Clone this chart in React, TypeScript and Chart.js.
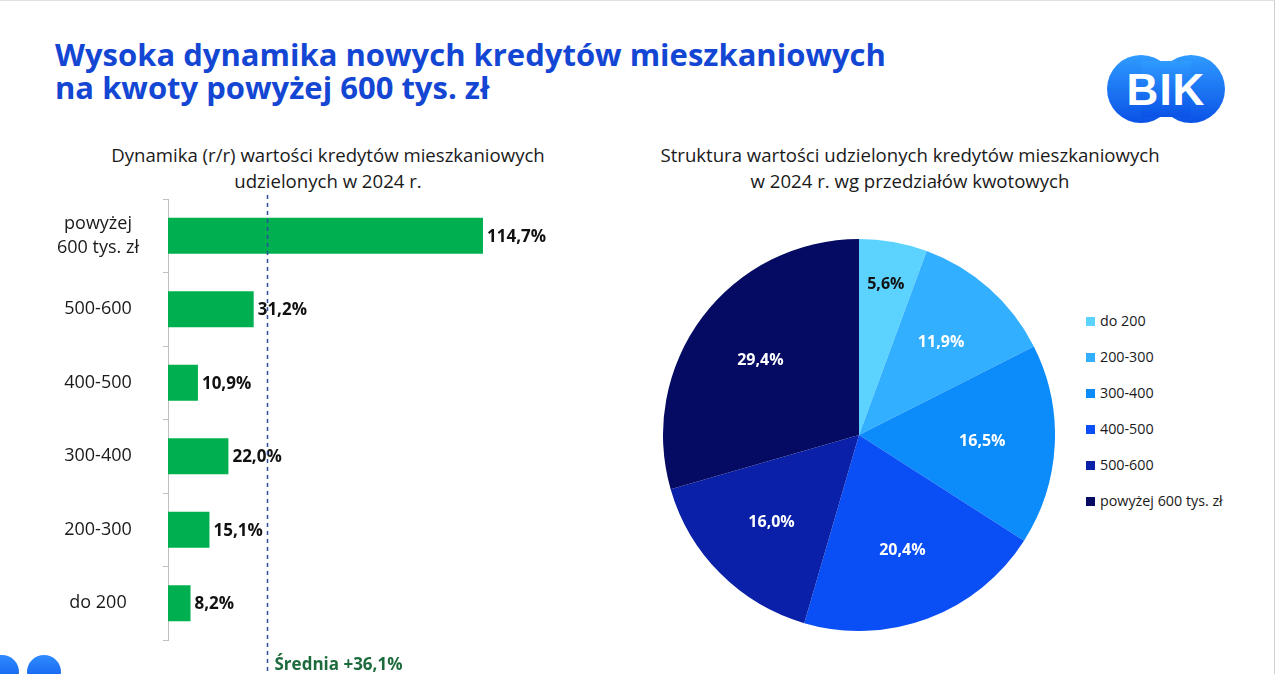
import React, { useEffect, useRef } from "react";
import { Chart, registerables } from "chart.js";

Chart.register(...registerables);

// ---------- data ----------
const barCategories: (string | string[])[] = [["powyżej", "600 tys. zł"], "500-600", "400-500", "300-400", "200-300", "do 200"];
const barValues = [114.7, 31.2, 10.9, 22.0, 15.1, 8.2];
const averageValue = 36.1;
const averageLabel = "Średnia +36,1%";

const pieLabels = ["do 200", "200-300", "300-400", "400-500", "500-600", "powyżej 600 tys. zł"];
const pieValues = [5.6, 11.9, 16.5, 20.4, 16.0, 29.4];
const pieColors = ["#5CD3FF", "#33AFFF", "#0B8CFA", "#0A4EF6", "#0A20A8", "#050B62"];

const titleLines = ["Wysoka dynamika nowych kredytów mieszkaniowych", "na kwoty powyżej 600 tys. zł"];
const leftSubtitle = ["Dynamika (r/r) wartości kredytów mieszkaniowych", "udzielonych w 2024 r."];
const rightSubtitle = ["Struktura wartości udzielonych kredytów mieszkaniowych", "w 2024 r. wg przedziałów kwotowych"];

// ---------- styles ----------
const FONT = '"Open Sans", "Noto Sans", sans-serif';
const fmt = (v: number) => v.toFixed(1).replace(".", ",") + "%";

function isLight(hex: string) {
  const n = parseInt(hex.slice(1), 16);
  const r = (n >> 16) & 255, g = (n >> 8) & 255, b = n & 255;
  return 0.299 * r + 0.587 * g + 0.114 * b > 170;
}

function BarChart() {
  const ref = useRef<HTMLCanvasElement>(null);
  useEffect(() => {
    const canvas = ref.current!;
    const ctx = canvas.getContext("2d")!;
    const tickSize = 18;
    ctx.font = `${tickSize}px ${FONT}`;
    const widest = Math.max(
      ...barCategories.flatMap((c) => (Array.isArray(c) ? c : [c]).map((s) => ctx.measureText(s).width))
    );
    const axisX = 168;
    const tickLen = 5;
    const labelCenterX = 98;
    const pad = Math.max(0, axisX - tickLen - labelCenterX - widest / 2);

    const barLabels = {
      id: "barLabels",
      afterDatasetsDraw(chart: any) {
        const c = chart.ctx;
        const meta = chart.getDatasetMeta(0);
        c.save();
        c.font = `bold 17px ${FONT}`;
        c.fillStyle = "#111111";
        c.textAlign = "left";
        c.textBaseline = "middle";
        meta.data.forEach((el: any, i: number) => {
          c.fillText(fmt(barValues[i]), el.x + 4, el.y + 1);
        });
        c.restore();
      },
    };
    const avgLine = {
      id: "avgLine",
      afterDraw(chart: any) {
        const c = chart.ctx;
        const x = Math.round(chart.scales.x.getPixelForValue(averageValue)) + 0.5;
        c.save();
        c.strokeStyle = "#2A4E9C";
        c.lineWidth = 1.5;
        c.setLineDash([4, 4]);
        c.beginPath();
        c.moveTo(x, 5);
        c.lineTo(x, chart.height - 2);
        c.stroke();
        c.setLineDash([]);
        c.font = `bold 17px ${FONT}`;
        c.fillStyle = "#1D6B3C";
        c.textAlign = "left";
        c.textBaseline = "alphabetic";
        c.fillText(averageLabel, x + 7, chart.height - 4);
        c.restore();
      },
    };

    const chart = new Chart(canvas, {
      type: "bar",
      data: {
        labels: barCategories as any,
        datasets: [
          {
            data: barValues,
            backgroundColor: "#00B050",
            borderWidth: 0,
            categoryPercentage: 1,
            barPercentage: 0.49,
          },
        ],
      },
      options: {
        indexAxis: "y",
        responsive: false,
        animation: false,
        layout: { padding: { top: 9, bottom: 34, right: 95, left: 0 } },
        plugins: { legend: { display: false }, tooltip: { enabled: false }, title: { display: false } },
        scales: {
          x: { display: false, min: 0, max: 130 },
          y: {
            afterFit(scale: any) {
              scale.width = axisX;
              scale.paddingTop = 0;
              scale.paddingBottom = 0;
            },
            border: { display: true, color: "#BFBFBF", width: 1 },
            grid: { display: true, drawOnChartArea: false, drawTicks: true, tickLength: tickLen, color: "#BFBFBF", offset: true },
            ticks: {
              crossAlign: "center",
              padding: pad,
              color: "#1A1A1A",
              font: { family: FONT, size: tickSize, lineHeight: 1.35 },
            },
          },
        },
      } as any,
      plugins: [barLabels, avgLine],
    });
    return () => chart.destroy();
  }, []);
  return (
    <canvas
      ref={ref}
      width={620}
      height={484}
      style={{ position: "absolute", left: 0, top: 190, width: 620, height: 484 }}
    />
  );
}

function PieChart() {
  const ref = useRef<HTMLCanvasElement>(null);
  useEffect(() => {
    const canvas = ref.current!;
    const total = pieValues.reduce((a, b) => a + b, 0);
    const pieLabelsPlugin = {
      id: "pieLabels",
      afterDatasetsDraw(chart: any) {
        const c = chart.ctx;
        const meta = chart.getDatasetMeta(0);
        c.save();
        c.font = `bold 16px ${FONT}`;
        c.textAlign = "center";
        c.textBaseline = "middle";
        meta.data.forEach((arc: any, i: number) => {
          const mid = (arc.startAngle + arc.endAngle) / 2;
          const share = pieValues[i] / total;
          const r = arc.outerRadius * (share < 0.08 ? 0.78 : 0.63);
          const x = arc.x + Math.cos(mid) * r;
          const y = arc.y + Math.sin(mid) * r;
          c.fillStyle = isLight(pieColors[i]) ? "#111111" : "#FFFFFF";
          c.fillText(fmt(pieValues[i]), x, y);
        });
        c.restore();
      },
    };
    const chart = new Chart(canvas, {
      type: "pie",
      data: {
        labels: pieLabels,
        datasets: [{ data: pieValues, backgroundColor: pieColors, borderWidth: 0 }],
      },
      options: {
        responsive: false,
        animation: false,
        layout: { padding: 0 },
        plugins: { legend: { display: false }, tooltip: { enabled: false } },
      } as any,
      plugins: [pieLabelsPlugin],
    });
    return () => chart.destroy();
  }, []);
  return (
    <canvas
      ref={ref}
      width={392}
      height={392}
      style={{ position: "absolute", left: 663, top: 239, width: 392, height: 392 }}
    />
  );
}

function Logo() {
  return (
    <svg width={122} height={72} style={{ position: "absolute", left: 1105, top: 53 }}>
      <defs>
        <linearGradient id="bikg" x1="0" y1="0" x2="0" y2="1">
          <stop offset="0" stopColor="#2F9BFF" />
          <stop offset="1" stopColor="#0A52E6" />
        </linearGradient>
      </defs>
      <circle cx={36} cy={36} r={34} fill="url(#bikg)" />
      <circle cx={86} cy={36} r={34} fill="url(#bikg)" />
      <rect x={36} y={8} width={50} height={56} fill="url(#bikg)" />
      <text
        x={61}
        y={52}
        textAnchor="middle"
        fill="#FFFFFF"
        style={{ font: 'bold 44px "Liberation Sans", Arial, sans-serif', letterSpacing: 1 }}
      >
        BIK
      </text>
    </svg>
  );
}

export default function App() {
  const sub: React.CSSProperties = {
    position: "absolute",
    textAlign: "center",
    fontFamily: FONT,
    fontSize: 18.6,
    lineHeight: "26px",
    color: "#1A1A1A",
    whiteSpace: "nowrap",
  };
  return (
    <div
      style={{
        position: "fixed",
        left: 0,
        top: 0,
        width: 1280,
        height: 674,
        background: "#FFFFFF",
        overflow: "hidden",
      }}
    >
      <div style={{ position: "absolute", left: 0, top: 0, width: 1274, height: 674, borderRight: "1px solid #D0D0D0", borderTop: "1px solid #E0E0E0" }} />
      <div
        style={{
          position: "absolute",
          left: 55,
          top: 38,
          fontFamily: FONT,
          fontWeight: 700,
          fontSize: 31,
          lineHeight: "33px",
          color: "#1446D4",
          whiteSpace: "nowrap",
        }}
      >
        {titleLines.map((l, i) => (
          <div key={i}>{l}</div>
        ))}
      </div>
      <Logo />
      <div style={{ ...sub, left: 28, width: 600, top: 142 }}>
        {leftSubtitle.map((l, i) => (
          <div key={i}>{l}</div>
        ))}
      </div>
      <div style={{ ...sub, left: 610, width: 600, top: 142 }}>
        {rightSubtitle.map((l, i) => (
          <div key={i}>{l}</div>
        ))}
      </div>
      <BarChart />
      <PieChart />
      <div style={{ position: "absolute", left: 1086, top: 310, fontFamily: FONT, fontSize: 14.3, color: "#1A1A1A" }}>
        {pieLabels.map((l, i) => (
          <div key={i} style={{ height: 36, display: "flex", alignItems: "flex-start" }}>
            <span
              style={{ display: "inline-block", width: 9, height: 9, background: pieColors[i], marginTop: 7, marginRight: 5 }}
            />
            <span style={{ lineHeight: "22px" }}>{l}</span>
          </div>
        ))}
      </div>
      <div style={{ position: "absolute", left: -15, top: 655, width: 34, height: 34, borderRadius: "50%", background: "linear-gradient(#2F8BFF,#0A55E8)" }} />
      <div style={{ position: "absolute", left: 27, top: 655, width: 34, height: 34, borderRadius: "50%", background: "linear-gradient(#2F8BFF,#0A55E8)" }} />
    </div>
  );
}
